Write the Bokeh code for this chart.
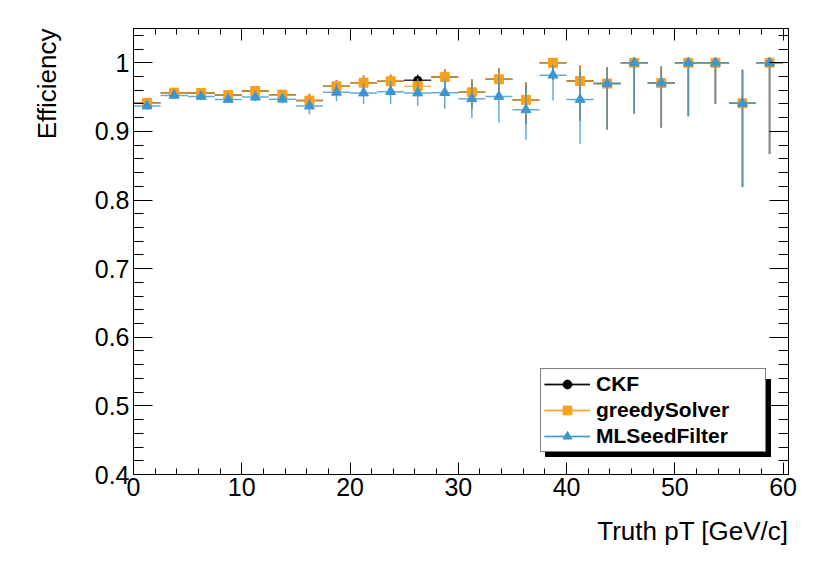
import numpy as np
from bokeh.plotting import figure
from bokeh.models import (Range1d, FixedTicker, LinearAxis, Title, Legend, LegendItem,
                          CustomJSTickFormatter, ColumnDataSource)
from bokeh.embed import file_html
from bokeh.resources import INLINE

# ---------------- data ----------------
pt_center = [1.25, 3.75, 6.25, 8.75, 11.25, 13.75, 16.25, 18.75, 21.25, 23.75, 26.25, 28.75,
             31.25, 33.75, 36.25, 38.75, 41.25, 43.75, 46.25, 48.75, 51.25, 53.75, 56.25, 58.75]
pt_halfwidth = 1.25

ckf_eff = [0.9418, 0.9565, 0.956, 0.953, 0.9588, 0.9535, 0.945, 0.9657, 0.971, 0.973, 0.9745, 0.9794,
           0.957, 0.976, 0.946, 1.0, 0.9735, 0.9697, 1.0, 0.9706, 1.0, 1.0, 0.941, 1.0]
ckf_err_lo = [0.004, 0.004, 0.004, 0.005, 0.005, 0.005, 0.010, 0.011, 0.013, 0.013, 0.012, 0.017,
              0.024, 0.026, 0.035, 0.025, 0.058, 0.067, 0.074, 0.065, 0.078, 0.060, 0.122, 0.133]
ckf_err_hi = [0.004, 0.004, 0.004, 0.004, 0.004, 0.005, 0.010, 0.009, 0.0105, 0.010, 0.0085, 0.0116,
              0.019, 0.016, 0.0256, 0.0, 0.0225, 0.024, 0.0, 0.024, 0.0, 0.0, 0.049, 0.0]

greedy_eff = [0.9418, 0.9565, 0.956, 0.953, 0.9588, 0.9535, 0.945, 0.9657, 0.971, 0.973, 0.966, 0.9794,
              0.957, 0.976, 0.946, 1.0, 0.9735, 0.9697, 1.0, 0.9706, 1.0, 1.0, 0.941, 1.0]
greedy_err_lo = [0.004, 0.004, 0.004, 0.005, 0.005, 0.005, 0.010, 0.011, 0.013, 0.013, 0.015, 0.017,
                 0.024, 0.026, 0.035, 0.025, 0.058, 0.067, 0.074, 0.065, 0.078, 0.060, 0.122, 0.133]
greedy_err_hi = [0.004, 0.004, 0.004, 0.004, 0.004, 0.005, 0.010, 0.009, 0.0105, 0.010, 0.011, 0.0116,
                 0.019, 0.016, 0.0256, 0.0, 0.0225, 0.024, 0.0, 0.024, 0.0, 0.0, 0.049, 0.0]

ml_eff = [0.937, 0.9525, 0.951, 0.9466, 0.950, 0.947, 0.937, 0.957, 0.956, 0.958, 0.956, 0.9565,
          0.9476, 0.951, 0.9315, 0.982, 0.9466, 0.9697, 1.0, 0.9706, 1.0, 1.0, 0.941, 1.0]
ml_err_lo = [0.005, 0.004, 0.005, 0.005, 0.006, 0.006, 0.012, 0.013, 0.016, 0.018, 0.019, 0.0235,
             0.028, 0.038, 0.0435, 0.037, 0.065, 0.067, 0.074, 0.065, 0.078, 0.060, 0.122, 0.133]
ml_err_hi = [0.005, 0.004, 0.004, 0.005, 0.005, 0.006, 0.011, 0.012, 0.014, 0.016, 0.017, 0.020,
             0.024, 0.030, 0.035, 0.015, 0.040, 0.024, 0.0, 0.024, 0.0, 0.0, 0.049, 0.0]

series_names = ["CKF", "greedySolver", "MLSeedFilter"]
x_ticks = [0, 10, 20, 30, 40, 50, 60]
y_ticks = [0.4, 0.5, 0.6, 0.7, 0.8, 0.9, 1.0]
x_title = "Truth pT [GeV/c]"
y_title = "Efficiency"

# ---------------- figure ----------------
FONT = "Liberation Sans"
p = figure(width=830, height=565, output_backend="svg", toolbar_location=None,
           x_range=Range1d(0, 60.5), y_range=Range1d(0.4, 1.05),
           min_border_left=133, min_border_right=42, min_border_top=28, min_border_bottom=91,
           background_fill_color="white", border_fill_color="white")
p.grid.visible = False
p.outline_line_color = "black"
p.outline_line_width = 1

x_minor = list(np.round(np.arange(0, 60.6, 2.0), 3))
y_minor = list(np.round(np.arange(0.4, 1.051, 0.02), 3))
xt = FixedTicker(ticks=x_ticks, minor_ticks=x_minor)
yt = FixedTicker(ticks=y_ticks, minor_ticks=y_minor)


def style_axis(ax, major_in, minor_in, show_labels):
    ax.axis_line_color = "black"
    ax.axis_line_width = 1
    ax.major_tick_line_color = "black"
    ax.minor_tick_line_color = "black"
    ax.major_tick_in = major_in
    ax.major_tick_out = 0
    ax.minor_tick_in = minor_in
    ax.minor_tick_out = 0
    ax.major_label_text_font = FONT
    ax.major_label_text_color = "black"
    if show_labels:
        ax.major_label_text_font_size = "25px"
    else:
        ax.major_label_overrides = {t: "" for t in ax.ticker.ticks}
        ax.major_label_standoff = 0


p.xaxis.ticker = xt
p.yaxis.ticker = yt
p.yaxis.formatter = CustomJSTickFormatter(code="return (Math.round(tick*10)/10).toString();")
style_axis(p.xaxis[0], 12, 6, True)
style_axis(p.yaxis[0], 19, 10, True)
p.xaxis.major_label_standoff = 3
p.yaxis.major_label_standoff = 4

top_ax = LinearAxis(ticker=xt)
style_axis(top_ax, 12, 6, False)
top_ax.major_label_text_font_size = "10px"
p.add_layout(top_ax, "above")
right_ax = LinearAxis(ticker=yt)
style_axis(right_ax, 19, 10, False)
right_ax.major_label_text_font_size = "10px"
p.add_layout(right_ax, "right")

# ---------------- series ----------------
series = [
    ("CKF", ckf_eff, ckf_err_lo, ckf_err_hi, "black", "circle", 8),
    ("greedySolver", greedy_eff, greedy_err_lo, greedy_err_hi, "#f9a01b", "square", 9),
    ("MLSeedFilter", ml_eff, ml_err_lo, ml_err_hi, "#3c96d2", "triangle", 10),
]

items_main = []
items_shadow = []
for name, eff, elo, ehi, color, marker, size in series:
    eff = np.array(eff)
    src = ColumnDataSource(dict(
        x=pt_center,
        x0=[c - pt_halfwidth for c in pt_center],
        x1=[c + pt_halfwidth for c in pt_center],
        y=eff,
        ylo=eff - np.array(elo),
        yhi=eff + np.array(ehi),
    ))
    hs = p.segment(x0="x0", y0="y", x1="x1", y1="y", source=src,
                   line_color=color, line_width=1.5, line_alpha=0.8)
    vs = p.segment(x0="x", y0="ylo", x1="x", y1="yhi", source=src,
                   line_color=color, line_width=1.5, line_alpha=0.8)
    sc = p.scatter(x="x", y="y", source=src, marker=marker, size=size,
                   fill_color=color, line_color=color)
    items_main.append(LegendItem(label=name, renderers=[hs, vs, sc]))
    items_shadow.append(LegendItem(label=" ", renderers=[sc]))


def make_legend(items, loc, shadow):
    lg = Legend(items=items, location=loc, orientation="vertical",
                label_text_font=FONT, label_text_font_style="bold",
                label_text_font_size="21px",
                label_text_color="black",
                label_height=22, glyph_height=22, glyph_width=46,
                label_standoff=6, label_width=166, padding=3, spacing=2, margin=0,
                border_line_color="black", border_line_width=1,
                background_fill_color="black" if shadow else "white",
                background_fill_alpha=1.0)
    return lg


p.add_layout(make_legend(items_shadow, (412, 17), True), "center")
p.add_layout(make_legend(items_main, (407, 22), False), "center")

# ---------------- axis titles ----------------
p.add_layout(Title(text=x_title, align="right", text_font=FONT, text_font_size="26px",
                   text_font_style="normal", text_color="black", standoff=31), "below")
p.add_layout(Title(text=y_title, align="right", vertical_align="top", text_font=FONT,
                   text_font_size="26px", text_font_style="normal", text_color="black",
                   standoff=56), "left")

open("out.html", "w").write(file_html(p, INLINE))
